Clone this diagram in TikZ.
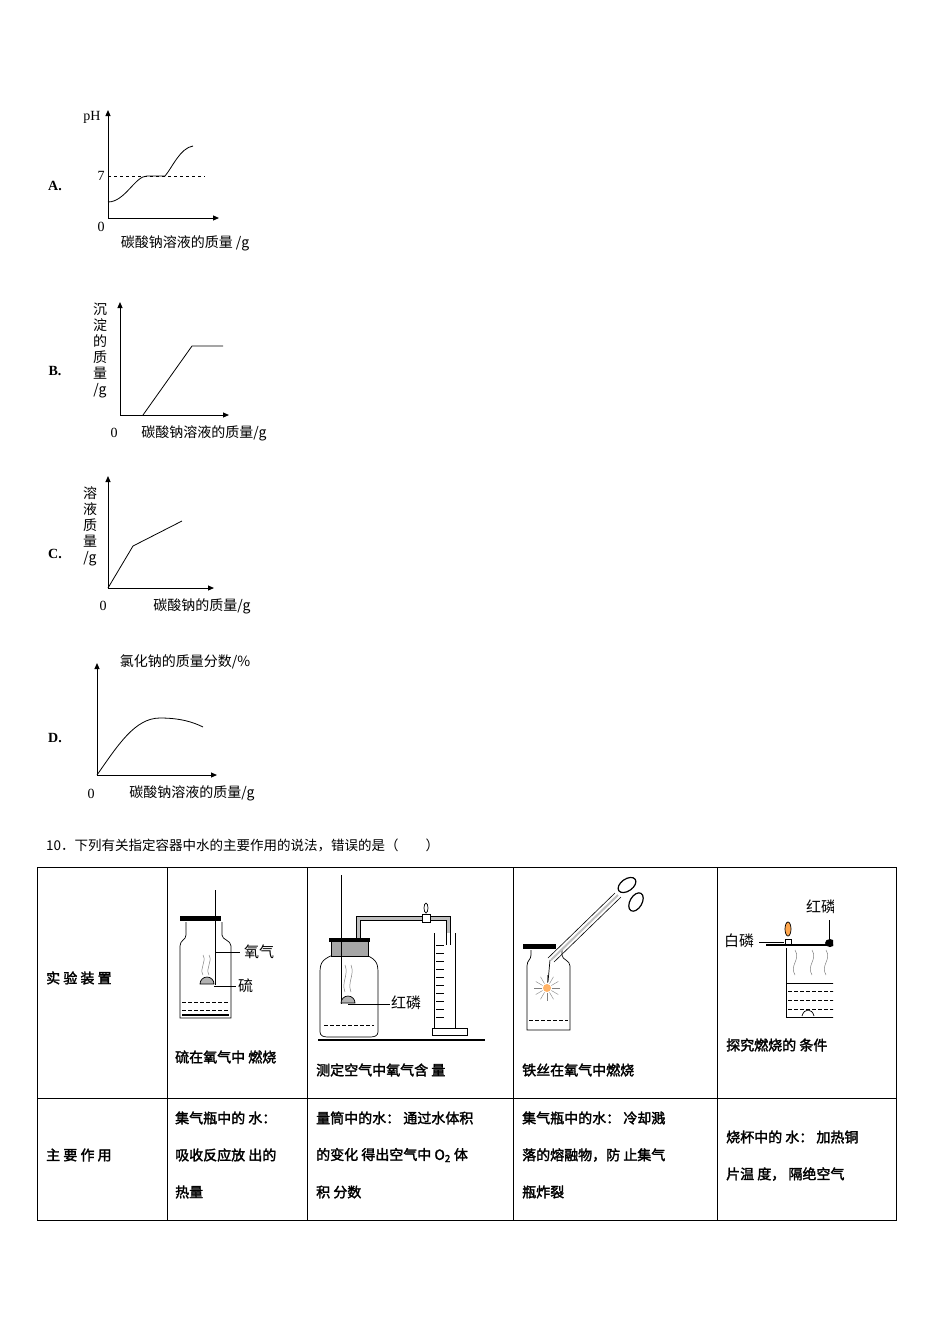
\documentclass[tikz,border=0pt]{standalone}
\usepackage{fontspec}
\setmainfont{Liberation Serif}
\newfontfamily\cjk{Noto Sans CJK SC}
\newfontfamily\cjkb[FakeBold=2]{Noto Sans CJK SC}
\usetikzlibrary{arrows.meta,calc}
\begin{document}
\begin{tikzpicture}[x=1pt,y=-1pt,
  ax/.style={line width=1pt,-{Triangle[length=6pt,width=5pt]}},
  crv/.style={line width=0.8pt},
  lbl/.style={font=\cjk\fontsize{14}{14}\selectfont,inner sep=0pt},
  num/.style={font=\fontsize{14}{14}\selectfont,inner sep=0pt},
  opt/.style={font=\bfseries\fontsize{14}{14}\selectfont,inner sep=0pt},
  cell/.style={font=\cjkb\fontsize{14}{14}\selectfont,inner sep=0pt,anchor=west},
  app/.style={line width=0.7pt},
  wat/.style={line width=0.7pt,dash pattern=on 4pt off 2pt}]
\useasboundingbox (0,0) rectangle (950,1344);
\fill[white] (0,0) rectangle (950,1344);
% ---- Graph A
\node[opt] (A) at (55,186) {A.};
\coordinate (oA) at (108,218);
\draw[ax] (oA) -- (108,110);
\draw[ax] (oA) -- (219,218);
\node[num] (pH) at (92,117) {pH};
\node[num] (sA) at (101,176) {7};
\node[num] (zA) at (101,227) {0};
\draw[dashed,line width=0.7pt] (108,176) -- (205,176);
\draw[crv] (108,202) .. controls (125,202) and (135,176) .. (147,176) -- (165,176) .. controls (172,168) and (180,148) .. (193,146);
\node[lbl] (xA) at (185,243) {碳酸钠溶液的质量 /g};
% ---- Graph B
\node[opt] (B) at (55,371) {B.};
\draw[ax] (120,415) -- (120,302);
\draw[ax] (120,415) -- (229,415);
\node[lbl,align=center] (yB) at (100,350) {沉\\[2pt]淀\\[2pt]的\\[2pt]质\\[2pt]量\\[2pt]/g};
\draw[crv] (143,415) -- (192,346) -- (223,346);
\node[num] (zB) at (114,433) {0};
\node[lbl] (xB) at (204,433) {碳酸钠溶液的质量/g};
% ---- Graph C
\node[opt] (C) at (55,554) {C.};
\draw[ax] (108,588) -- (108,476);
\draw[ax] (108,588) -- (214,588);
\node[lbl,align=center] (yC) at (90,526) {溶\\[2pt]液\\[2pt]质\\[2pt]量\\[2pt]/g};
\draw[crv] (108,588) -- (133,546) -- (182,521);
\node[num] (zC) at (103,606) {0};
\node[lbl] (xC) at (202,606) {碳酸钠的质量/g};
% ---- Graph D
\node[opt] (D) at (55,738) {D.};
\draw[ax] (97,775) -- (97,663);
\draw[ax] (97,775) -- (217,775);
\node[lbl] (yD) at (185,662) {氯化钠的质量分数/\%};
\draw[crv] (97,775) .. controls (118,745) and (135,718) .. (160,718) .. controls (180,718) and (193,722) .. (203,727);
\node[num] (zD) at (91,794) {0};
\node[lbl] (xD) at (192,793) {碳酸钠溶液的质量/g};
% ---- Question
\node[lbl,anchor=west,font=\cjk\fontsize{13.5}{14}\selectfont] (Q) at (46,845) {10．下列有关指定容器中水的主要作用的说法，错误的是（　　）};
% ---- Table
\draw[line width=0.9pt] (37,867) rectangle (896,1220);
\foreach \x in {167,307,513,717} \draw[line width=0.9pt] (\x,867) -- (\x,1220);
\draw[line width=0.9pt] (37,1098) -- (896,1098);
\node[cell] (h1) at (46,978) {实 验 装 置};
\node[cell] (h2) at (46,1155) {主 要 作 用};
\node[cell] (c1) at (175,1057) {硫在氧气中 燃烧};
\node[cell] (c2) at (316,1070) {测定空气中氧气含 量};
\node[cell] (c3) at (522,1070) {铁丝在氧气中燃烧};
\node[cell] (c4) at (726,1045) {探究燃烧的 条件};
\node[cell] at (175,1118) {集气瓶中的 水：};
\node[cell] at (175,1155) {吸收反应放 出的};
\node[cell] at (175,1192) {热量};
\node[cell] at (316,1118) {量筒中的水： 通过水体积};
\node[cell] at (316,1155) {的变化 得出空气中 O\textsubscript{2} 体};
\node[cell] at (316,1192) {积 分数};
\node[cell] at (522,1118) {集气瓶中的水： 冷却溅};
\node[cell] at (522,1155) {落的熔融物，防 止集气};
\node[cell] at (522,1192) {瓶炸裂};
\node[cell] at (726,1137) {烧杯中的 水： 加热铜};
\node[cell] at (726,1174) {片温 度， 隔绝空气};
% ---- Apparatus 1
\draw[app] (186,922) -- (186,935) .. controls (186,940) and (180,940) .. (180,946) -- (180,1018) -- (231,1018) -- (231,946) .. controls (231,940) and (222,940) .. (222,935) -- (222,922);
\fill (180,916) rectangle (221,921);
\draw[app] (215,890) -- (215,985);
\draw[app,fill=gray!60] (200,984) arc (180:360:7) -- cycle;
\draw[wat] (182,1002) -- (229,1002);
\draw[wat] (182,1010) -- (229,1010);
\draw[line width=1.3pt] (182,1015) -- (229,1015);
\draw[gray,line width=0.5pt] (203,975) .. controls (199,968) and (207,962) .. (203,955);
\draw[gray,line width=0.5pt] (209,975) .. controls (205,968) and (213,962) .. (209,955);
\coordinate (o1) at (215,952); \coordinate (o2) at (214,986);
\draw[app] (o1) -- (240,952);
\draw[app] (o2) -- (236,986);
\node[lbl,anchor=west,font=\cjk\fontsize{15}{15}\selectfont] (ox) at (244,952) {氧气};
\node[lbl,anchor=west,font=\cjk\fontsize{15}{15}\selectfont] (S) at (238,986) {硫};
% ---- Apparatus 2
\draw[app] (333,955) .. controls (320,960) and (320,965) .. (320,975) -- (320,1032) .. controls (320,1036) and (324,1037) .. (328,1037) -- (370,1037) .. controls (374,1037) and (378,1036) .. (378,1032) -- (378,975) .. controls (378,965) and (378,960) .. (366,955);
\fill[gray!70] (331,941) rectangle (368,956);
\draw[app] (331,941) rectangle (368,956);
\fill (329,938) rectangle (370,942);
\draw[app] (341,875) -- (341,1004);
\draw[app,fill=gray!60] (341,1003) arc (180:360:7) -- cycle;
\draw[gray,line width=0.5pt] (345,992) .. controls (341,982) and (349,975) .. (345,965);
\draw[gray,line width=0.5pt] (351,992) .. controls (347,982) and (355,975) .. (351,965);
\draw[wat] (324,1025) -- (374,1025);
\draw[app] (348,1004) -- (390,1004);
\node[lbl,anchor=west,font=\cjk\fontsize{15}{15}\selectfont] (rP) at (391,1003) {红磷};
\draw[line width=3pt,gray!50] (358,938) -- (358,918) -- (448,918) -- (448,933);
\draw[line width=0.6pt] (356,938) -- (356,916) -- (450,916) -- (450,945);
\draw[line width=0.6pt] (360,938) -- (360,920) -- (446,920) -- (446,945);
\draw[app] (426,908) ellipse (2pt and 5pt);
\draw[app,fill=white] (422,914) rectangle (430,922);
\draw[app] (434,933) -- (434,1028) -- (455,1028) -- (455,933);
\foreach \y in {945,953,...,1021} \draw[line width=0.4pt] (436,\y) -- (444,\y);
\draw[app] (432,1028) rectangle (467,1035);
\draw[line width=2pt] (318,1040) -- (485,1040);
% ---- Apparatus 3
\draw[app] (531,950) -- (531,955) .. controls (531,960) and (527,960) .. (527,966) -- (527,1030) -- (570,1030) -- (570,966) .. controls (570,960) and (562,960) .. (562,955) -- (562,950);
\fill (523,944) rectangle (556,949);
\draw[wat] (529,1020) -- (568,1020);
\foreach \a in {0,30,...,330} \draw[gray,line width=0.4pt] ($(547,988)+(\a:5)$) -- ($(547,988)+(\a:13)$);
\fill[orange!60] (547,988) circle (4);
\draw[line width=2pt,gray!50] (551,960) -- (618,895);
\draw[line width=0.6pt] (548,958) -- (615,893);
\draw[line width=0.6pt] (554,962) -- (621,897);
\draw[app] (550,960) -- (548,982);
\draw[line width=1.2pt,rotate around={35:(627,885)}] (627,885) ellipse (10pt and 6pt);
\draw[line width=1.2pt,rotate around={60:(636,902)}] (636,902) ellipse (10pt and 6pt);
% ---- Apparatus 4
\begin{scope}
\clip (720,870) rectangle (833,1095);
\draw[app] (786,948) -- (786,1017) -- (840,1017);
\draw[line width=1.8pt] (766,945) -- (840,945);
\draw[app] (786,983) -- (840,983);
\foreach \y in {991,1000,1009} \draw[wat] (788,\y) -- (840,\y);
\foreach \x in {795,812,826} \draw[gray,line width=0.5pt] (\x,975) .. controls (\x-6,965) and (\x+6,960) .. (\x,950);
\fill (830,943) ellipse (5pt and 4pt);
\draw[app] (829,942) -- (829,920);
\node[lbl,anchor=west,font=\cjk\fontsize{15}{15}\selectfont] (red) at (806,907) {红磷};
\draw[app] (802,1016) .. controls (804,1008) and (812,1008) .. (814,1016);
\end{scope}
\draw[app] (785,939) rectangle (791,945);
\fill[orange!70] (788,929) ellipse (3pt and 7pt);
\draw[app] (788,929) ellipse (3pt and 7pt);
\draw[app] (759,942) -- (784,942);
\node[lbl,anchor=west,font=\cjk\fontsize{15}{15}\selectfont] (wP) at (724,941) {白磷};
\end{tikzpicture}
\end{document}
